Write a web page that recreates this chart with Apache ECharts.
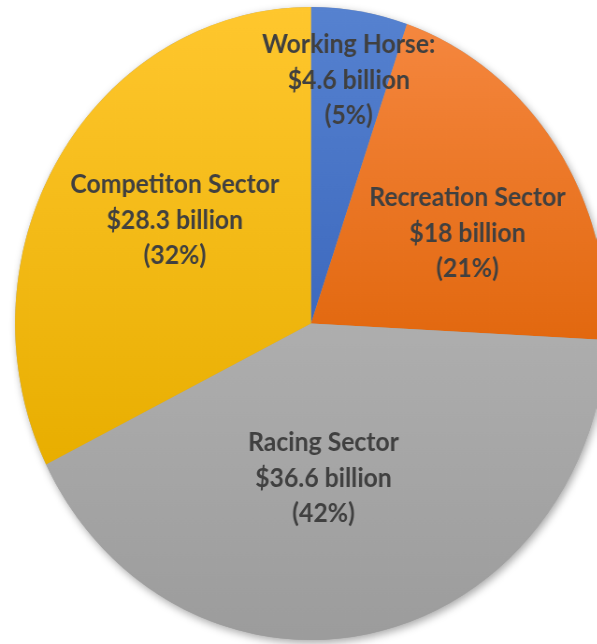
<!DOCTYPE html>
<html>
<head>
<meta charset="utf-8">
<script src="https://cdn.jsdelivr.net/npm/echarts@6/dist/echarts.min.js"></script>
<style>
html, body { margin: 0; padding: 0; background: #fff; overflow: hidden; width: 597px; height: 644px; }
#chart { width: 638px; height: 644px; transform: scaleX(0.935); transform-origin: 0 0; }
</style>
</head>
<body>
<div id="chart"></div>
<script>
const categories = ['Working Horse:', 'Recreation Sector', 'Racing Sector', 'Competiton Sector'];
const values = [4.6, 18, 36.6, 28.3];
const percentLabels = ['5%', '21%', '42%', '32%'];
const topColors = ['#5682D0', '#F5873F', '#AEAEAE', '#FFC72E'];
const bottomColors = ['#3D69BE', '#E2680F', '#9C9C9C', '#E8AE00'];

const labelSpots = [[373, 80], [500, 233], [346, 478], [187, 220]];

const chart = echarts.init(document.getElementById('chart'), null, { renderer: 'canvas' });

const data = categories.map((name, i) => ({
  name: name,
  value: values[i],
  itemStyle: {
    color: {
      type: 'linear', x: 0, y: 0, x2: 0, y2: 1,
      colorStops: [{ offset: 0, color: topColors[i] }, { offset: 1, color: bottomColors[i] }]
    }
  }
}));

chart.setOption({
  animation: false,
  series: [
    {
      type: 'pie',
      silent: true,
      center: [332.6, 323.5],
      radius: [0, 316.5],
      z: 1,
      label: { show: false },
      labelLine: { show: false },
      itemStyle: {
        color: '#a0a0a0',
        shadowBlur: 8,
        shadowColor: 'rgba(0,0,0,0.35)',
        shadowOffsetX: 2,
        shadowOffsetY: 3
      },
      data: [{ value: 1, name: 'bg' }]
    },
    {
      type: 'pie',
      center: [332.6, 323.5],
      radius: [0, 316.5],
      startAngle: 90,
      clockwise: true,
      z: 2,
      itemStyle: { borderWidth: 0 },
      label: {
        show: true,
        position: 'inside',
        color: '#404040',
        fontFamily: 'Lato',
        fontWeight: 'bold',
        fontSize: 26.5,
        lineHeight: 35.5,
        align: 'center',
        formatter: function (p) {
          const v = values[p.dataIndex];
          return p.name + '\n$' + v + ' billion\n(' + percentLabels[p.dataIndex] + ')';
        }
      },
      labelLine: { show: false },
      labelLayout: function (params) {
        const s = labelSpots[params.dataIndex];
        return { x: s[0], y: s[1], align: 'center', verticalAlign: 'middle' };
      },
      emphasis: { disabled: true },
      data: data
    }
  ]
});
</script>
</body>
</html>
